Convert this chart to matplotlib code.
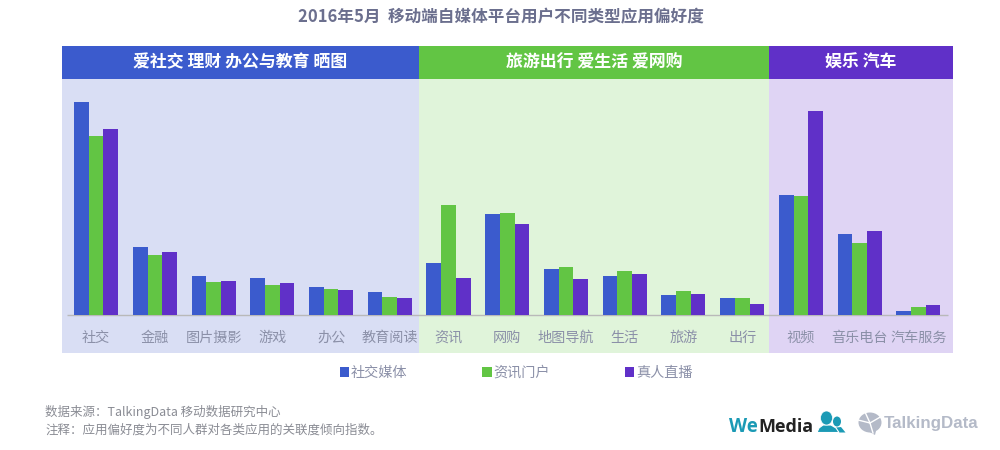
"""2016年5月 移动端自媒体平台用户不同类型应用偏好度 - grouped bars with section bands."""
import matplotlib
matplotlib.use("Agg")
import matplotlib.pyplot as plt
from matplotlib.patches import Ellipse, Polygon

plt.rcParams["font.family"] = ["Noto Sans CJK SC", "DejaVu Sans"]

W, H = 1000, 450

categories = ["社交", "金融", "图片摄影", "游戏", "办公", "教育阅读",
              "资讯", "网购", "地图导航", "生活", "旅游", "出行",
              "视频", "音乐电台", "汽车服务"]
social = [213, 68.5, 39, 36.7, 28, 22.7, 52.3, 100.7, 45.7, 39, 20, 16.7, 119.7, 81, 4.3]
news = [179, 60.3, 33, 30, 25.7, 18.3, 110, 102, 47.7, 44.3, 24.3, 17, 118.7, 72.3, 8]
live = [185.7, 63.3, 34, 31.7, 24.7, 16.7, 36.7, 91.3, 36.3, 40.7, 20.7, 11.3, 204.3, 83.7, 9.7]
series_names = ["社交媒体", "资讯门户", "真人直播"]

section_titles = ["爱社交 理财 办公与教育 晒图", "旅游出行 爱生活 爱网购", "娱乐 汽车"]
section_edges = [-0.59, 5.496, 11.455, 14.59]

BLUE, GREEN, PURPLE = "#3b5bcd", "#62c544", "#6030c8"
BANDS = ["#d9def4", "#e0f4da", "#dfd4f4"]
HEADS = [BLUE, GREEN, PURPLE]
TEXT = "#8b90a8"


def px_axes(fig, left, top, right, bottom):
    """Axes placed by pixel box, y measured from the top of the image."""
    return fig.add_axes([left / W, 1 - bottom / H, (right - left) / W, (bottom - top) / H])


fig = plt.figure(figsize=(W / 100, H / 100), dpi=100, facecolor="white")

ax = px_axes(fig, 61.5, 79, 953, 353)
ax.set_xlim(section_edges[0], section_edges[-1])
ax.set_ylim(-38, 236)

for i, color in enumerate(BANDS):
    ax.axvspan(section_edges[i], section_edges[i + 1], color=color, lw=0, zorder=0)

x = list(range(len(categories)))
bar_w = 0.25
bars = []
for offset, values, color, name in zip((-1, 0, 1), (social, news, live),
                                       (BLUE, GREEN, PURPLE), series_names):
    bars.append(ax.bar([v + offset * bar_w for v in x], values, width=bar_w,
                       color=color, label=name, zorder=2))
ax.hlines(0, -0.497, 14.5, color="#b9b9b9", lw=1, zorder=1)

for side in ("top", "left", "right"):
    ax.spines[side].set_visible(False)
ax.spines["bottom"].set_position(("data", 0))
ax.spines["bottom"].set_visible(False)
ax.set_yticks([])
ax.set_xticks(x)
ax.set_xticklabels(categories, fontsize=10.2, color=TEXT)
ax.tick_params(axis="x", length=0, pad=11.5)

# section header strip
head = px_axes(fig, 61.5, 46, 953, 79)
head.set_xlim(section_edges[0], section_edges[-1])
head.set_ylim(0, 1)
head.axis("off")
for i, title in enumerate(section_titles):
    head.axvspan(section_edges[i], section_edges[i + 1], color=HEADS[i], lw=0)
    head.text((section_edges[i] + section_edges[i + 1]) / 2, 0.5, title, color="white",
              ha="center", va="center", fontsize=12.2, fontweight="bold")

fig.legend(handles=bars, labels=series_names, ncol=3, frameon=False,
           loc="center", bbox_to_anchor=(516 / W, 1 - 373 / H),
           prop={"size": 10.2}, labelcolor=TEXT,
           handlelength=0.64, handleheight=0.64, handletextpad=0.11,
           columnspacing=5.34, borderpad=0, borderaxespad=0)

# overlay in image pixels for title, notes and logos
over = fig.add_axes([0, 0, 1, 1], facecolor="none")
over.set_xlim(0, W)
over.set_ylim(H, 0)
over.axis("off")

over.text(501, 17, "2016年5月  移动端自媒体平台用户不同类型应用偏好度", ha="center", va="center",
          fontsize=11.95, fontweight="bold", color="#6b6f8e")
over.text(45, 412, "数据来源：TalkingData 移动数据研究中心", ha="left", va="center",
          fontsize=9, color="#8a8c94")
over.text(45, 430, "注释：应用偏好度为不同人群对各类应用的关联度倾向指数。", ha="left", va="center",
          fontsize=9, color="#8a8c94")

# WeMedia logo
TEAL = "#1b9ab5"
over.text(729, 427, "We", ha="left", va="center", fontsize=13.5, fontweight="bold",
          family=["Open Sans", "DejaVu Sans"], color=TEAL)
over.text(758, 427, "Media", ha="left", va="center", fontsize=13, fontweight="bold",
          family=["Open Sans", "DejaVu Sans"], color="#222222")
over.add_patch(Ellipse((837, 421.5), 8, 10, color=TEAL, lw=0))
over.add_patch(Polygon([(832, 432.5), (832, 428), (841, 427), (845.5, 432.5)], color=TEAL, lw=0))
over.add_patch(Polygon([(817, 432.5), (819, 428), (823, 425), (831, 425), (836, 428), (839, 432.5)],
                       facecolor=TEAL, edgecolor="white", lw=0.8))
over.add_patch(Ellipse((826.5, 418), 12, 14, facecolor=TEAL, edgecolor="white", lw=0.5))

# TalkingData logo
GREY = "#b4bac8"
over.add_patch(Ellipse((870, 422.5), 23, 20, color=GREY, lw=0))
over.add_patch(Polygon([(866, 430), (876, 431), (875, 435)], color=GREY, lw=0))
over.plot([858, 870, 882], [420, 423, 416], color="white", lw=1)
over.plot([870, 873], [423, 433], color="white", lw=1)
over.plot([870, 865], [423, 412], color="white", lw=1)
over.text(884, 423.5, "TalkingData", ha="left", va="center", fontsize=12.2, fontweight="bold",
          family=["Liberation Sans", "DejaVu Sans"], color=GREY)

fig.savefig("out.png", dpi=100, facecolor="white")
plt.close(fig)
